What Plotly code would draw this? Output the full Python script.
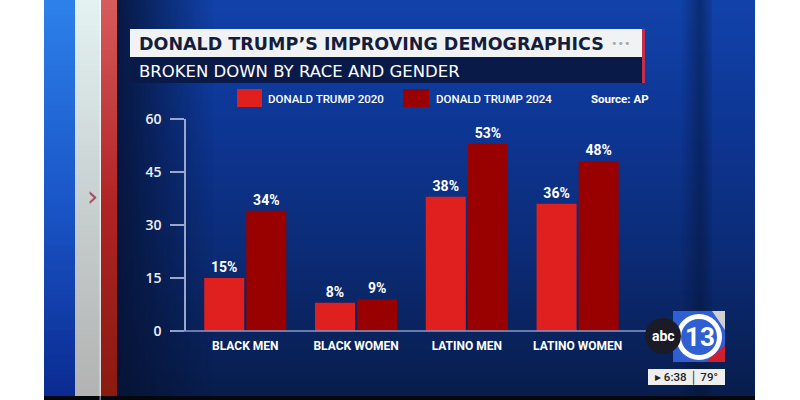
import numpy as np
import plotly.graph_objects as go

# ---- data ----
categories = ["BLACK MEN", "BLACK WOMEN", "LATINO MEN", "LATINO WOMEN"]
series_names = ["DONALD TRUMP 2020", "DONALD TRUMP 2024"]
trump_2020 = [15, 8, 38, 36]
trump_2024 = [34, 9, 53, 48]
y_ticks = [0, 15, 30, 45, 60]
title_text = "DONALD TRUMP’S IMPROVING DEMOGRAPHICS"
subtitle_text = "BROKEN DOWN BY RACE AND GENDER"
source_text = "Source: AP"

W, H = 800, 400
C2020 = "#e01f1f"
C2024 = "#990000"

def px(x):
    return x / W

def py(y):
    return 1 - y / H

fig = go.Figure()

# ---- background gradients (pixel-space helper axes) ----
def vgrad(x0, x1, y0, y1, colors, n=80):
    ys = np.linspace(y0, y1, n + 1)
    z = [[i] for i in range(n)]
    cs = [[i / (len(colors) - 1), c] for i, c in enumerate(colors)]
    return go.Heatmap(x=[x0, x1], y=ys, z=z, colorscale=cs, showscale=False,
                      hoverinfo="skip", xaxis="x", yaxis="y")

def hgrad(x0, x1, y0, y1, colors, n=40):
    xs = np.linspace(x0, x1, n + 1)
    z = [list(range(n))]
    cs = [[i / (len(colors) - 1), c] for i, c in enumerate(colors)]
    return go.Heatmap(x=xs, y=[y0, y1], z=z, colorscale=cs, showscale=False,
                      hoverinfo="skip", xaxis="x", yaxis="y")

fig.add_trace(vgrad(117, 755, 0, 400, ["#1142aa", "#0d3592", "#0b2a72", "#081d4c"]))
fig.add_trace(hgrad(117, 215, 0, 400, ["rgba(6,18,50,0.85)", "rgba(6,18,50,0.0)"]))
fig.add_trace(hgrad(680, 700, 0, 400, ["rgba(6,18,50,0.0)", "rgba(6,18,50,0.45)"]))
fig.add_trace(hgrad(700, 712, 0, 400, ["rgba(6,18,50,0.45)", "rgba(6,18,50,0.1)"]))
fig.add_trace(vgrad(44, 75, 0, 400, ["#2d80ea", "#1a56c8", "#0a2a90"]))
fig.add_trace(vgrad(75, 101, 0, 400, ["#e4f2f2", "#c8d0d0", "#b2b2b2"]))
fig.add_trace(vgrad(101, 117, 0, 400, ["#d85a5a", "#b02424", "#8a1a10"]))

# ---- bars ----
fig.add_trace(go.Bar(x=categories, y=trump_2020, name=series_names[0],
                     marker=dict(color=C2020, line=dict(width=0)),
                     text=[f"{v}%" for v in trump_2020], textposition="outside",
                     textfont=dict(color="white", size=14, family="Roboto", weight="bold"),
                     cliponaxis=False, xaxis="x2", yaxis="y2"))
fig.add_trace(go.Bar(x=categories, y=trump_2024, name=series_names[1],
                     marker=dict(color=C2024, line=dict(width=0)),
                     text=[f"{v}%" for v in trump_2024], textposition="outside",
                     textfont=dict(color="white", size=14, family="Roboto", weight="bold"),
                     cliponaxis=False, xaxis="x2", yaxis="y2"))

shapes = []
ann = []

def rect(x0, y0, x1, y1, fill, line=None):
    shapes.append(dict(type="rect", xref="paper", yref="paper",
                       x0=px(x0), x1=px(x1), y0=py(y1), y1=py(y0),
                       fillcolor=fill, line=dict(width=0) if line is None else line,
                       layer="above"))

def text(x, y, s, size, color, family="Roboto", weight="normal", xanchor="left"):
    ann.append(dict(xref="paper", yref="paper", x=px(x), y=py(y), text=s,
                    showarrow=False, xanchor=xanchor, yanchor="middle",
                    font=dict(size=size, color=color, family=family, weight=weight)))

# side areas and bottom line
rect(755, 0, 800, 400, "white")
rect(0, 0, 44, 400, "white")
rect(44, 396, 755, 400, "#05070f")
rect(99.5, 0, 101, 400, "rgba(255,255,255,0.5)")
text(92, 196, "›", 28, "#a84a6a", family="DejaVu Sans", xanchor="center")

# title boxes
rect(130, 29, 642, 57, "#f1f2f4")
rect(130, 57, 642, 83, "#0a1a48")
rect(642, 29, 645, 83, "#c0304a")
text(137, 44, title_text, 17.5, "#151d3d", family="DejaVu Sans", weight="bold")
text(620, 44, "•••", 11, "#a8aab4", xanchor="center", family="DejaVu Sans")
text(137, 71, subtitle_text, 16.5, "white", family="DejaVu Sans")

# legend
rect(237, 89, 262, 107, C2020)
rect(403, 89, 429, 107, C2024)
text(266, 99, series_names[0], 11.5, "white", weight=500)
text(434, 99, series_names[1], 11.5, "white", weight=500)
text(589, 99, source_text, 11.5, "white", weight="bold")

# baseline
shapes.append(dict(type="line", xref="paper", yref="paper", x0=px(172), x1=px(648),
                   y0=py(331), y1=py(331), line=dict(color="#8a98c8", width=1.5), layer="above"))

# logo
rect(673, 311, 725, 362, "#2f5fd2")
shapes.append(dict(type="path", xref="paper", yref="paper",
                   path=f"M {px(712)},{py(311)} L {px(725)},{py(311)} L {px(725)},{py(330)} Z",
                   fillcolor="#d0d0d4", line=dict(width=0), layer="above"))
shapes.append(dict(type="path", xref="paper", yref="paper",
                   path=f"M {px(725)},{py(345)} L {px(725)},{py(362)} L {px(706)},{py(362)} Z",
                   fillcolor="#d02030", line=dict(width=0), layer="above"))
shapes.append(dict(type="circle", xref="paper", yref="paper",
                   x0=px(676), x1=px(722), y0=py(360), y1=py(314),
                   fillcolor="white", line=dict(width=0), layer="above"))
shapes.append(dict(type="circle", xref="paper", yref="paper",
                   x0=px(681), x1=px(717), y0=py(355), y1=py(319),
                   fillcolor="#2f5fd2", line=dict(width=0), layer="above"))
shapes.append(dict(type="circle", xref="paper", yref="paper",
                   x0=px(645), x1=px(681), y0=py(354), y1=py(318),
                   fillcolor="#1b1b28", line=dict(width=0), layer="above"))
text(663, 336, "abc", 14, "white", family="Roboto", weight="bold", xanchor="center")
text(700, 337, "13", 26, "white", family="Roboto", weight="bold", xanchor="center")
rect(648, 369, 725, 385, "#eeeeee")
text(686, 377.5, "▸ 6:38 │ 79°", 11.5, "#222222", family="Roboto", weight=500, xanchor="center")

fig.update_layout(
    width=W, height=H, margin=dict(l=0, r=0, t=0, b=0, pad=0, autoexpand=False),
    paper_bgcolor="white", plot_bgcolor="rgba(0,0,0,0)",
    showlegend=False, barmode="group", bargap=0.24, bargroupgap=0.05,
    xaxis=dict(domain=[0, 1], range=[0, 800], visible=False, fixedrange=True, automargin=False),
    yaxis=dict(domain=[0, 1], range=[400, 0], visible=False, fixedrange=True, automargin=False),
    xaxis2=dict(domain=[px(186), px(633)], range=[-0.535, 3.5], anchor="y2",
                showline=False, showgrid=False, zeroline=False, ticks="",
                tickfont=dict(color="white", size=12, family="Roboto", weight="bold"),
                ticklabelstandoff=6, fixedrange=True, automargin=False),
    yaxis2=dict(domain=[py(331), py(119)], range=[0, 60], anchor="x2",
                tickvals=y_ticks, ticks="outside", ticklen=14, tickcolor="#9aa6cc",
                tickwidth=1.5, showline=True, linecolor="#9aa6cc", linewidth=1.5,
                showgrid=False, zeroline=False,
                tickfont=dict(color="#eef0f6", size=14, family="Open Sans", weight=600),
                ticklabelstandoff=6, fixedrange=True, automargin=False),
    shapes=shapes, annotations=ann,
)

fig.write_html("out.html", config={"displayModeBar": False},
               post_script="document.body.style.margin='0';")
